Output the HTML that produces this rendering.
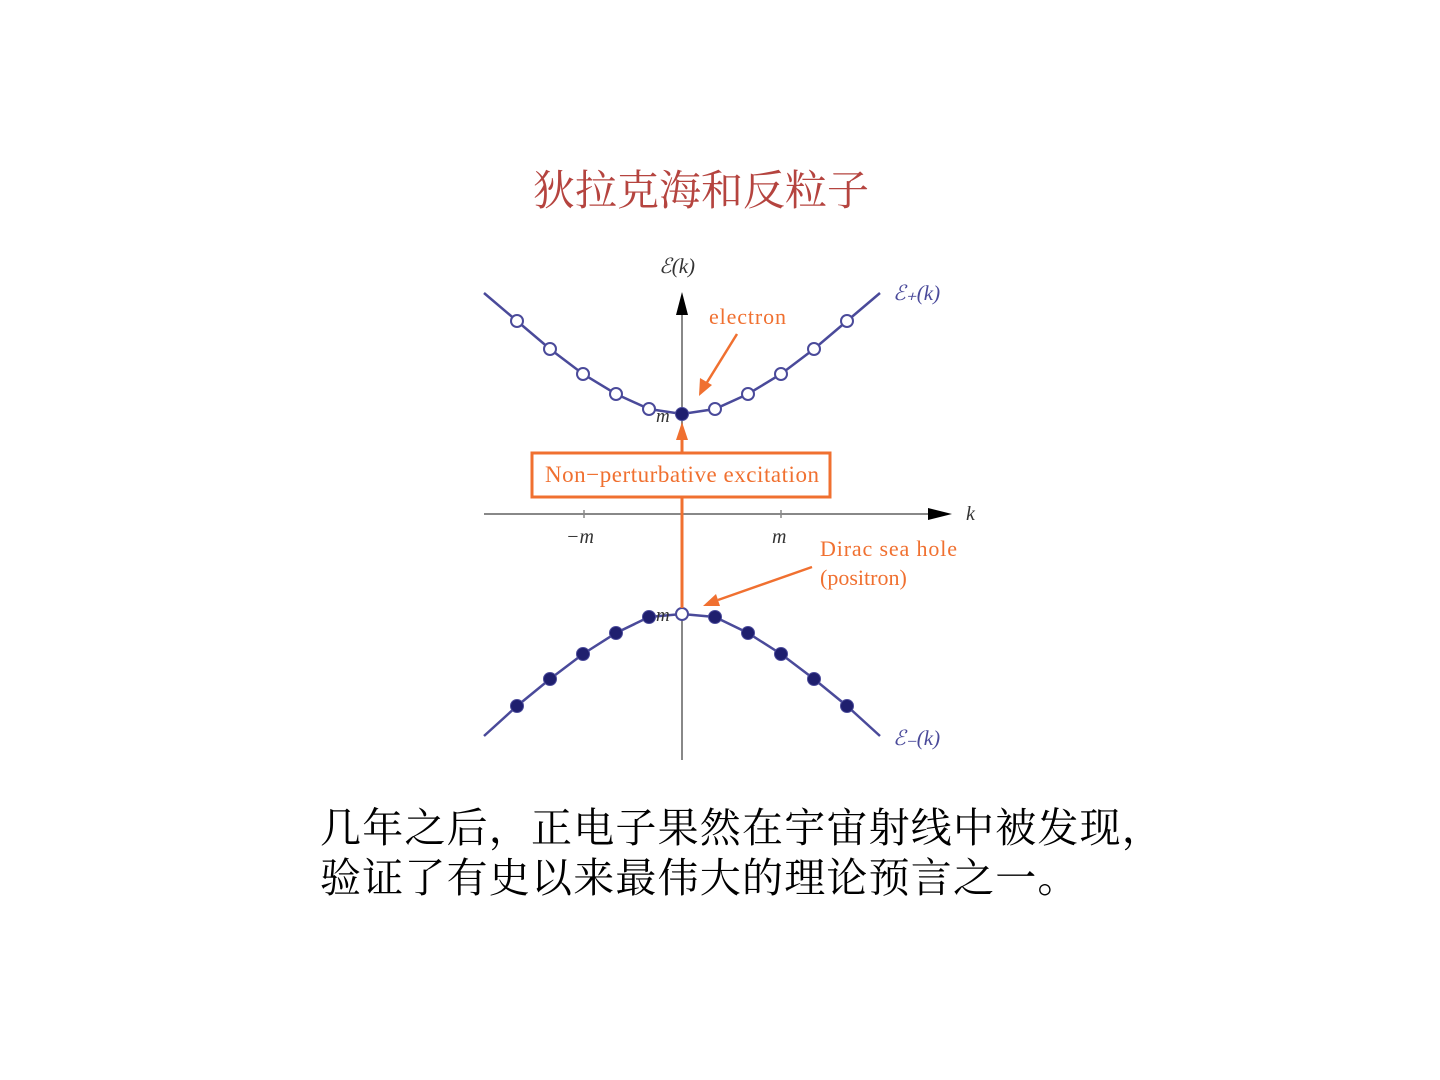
<!DOCTYPE html>
<html><head><meta charset="utf-8"><style>
html,body{margin:0;padding:0;background:#fff;width:1440px;height:1080px;overflow:hidden;position:relative}
.t{position:absolute;font-family:"Liberation Serif","Noto Serif CJK SC","Noto Sans CJK SC",serif;white-space:nowrap}
</style></head><body>
<div class="t" style="left:533px;top:158px;font-size:42px;color:#b5443f;">狄拉克海和反粒子</div>
<svg width="1440" height="1080" style="position:absolute;left:0;top:0" font-family="Liberation Serif, serif">
<line x1="484" y1="514" x2="935" y2="514" stroke="#888" stroke-width="2"/>
<path d="M928,508 L952,514 L928,520 z" fill="#000"/>
<line x1="682" y1="760" x2="682" y2="310" stroke="#888" stroke-width="2"/>
<path d="M676,315 L682,292 L688,315 z" fill="#000"/>
<line x1="584" y1="510" x2="584" y2="518" stroke="#888" stroke-width="1.5"/>
<line x1="781" y1="510" x2="781" y2="518" stroke="#888" stroke-width="1.5"/>
<text x="566" y="543" font-size="20" font-style="italic" fill="#333">−m</text>
<text x="772" y="543" font-size="20" font-style="italic" fill="#333">m</text>
<text x="966" y="520" font-size="20" font-style="italic" fill="#333">k</text>
<text x="659" y="273" font-size="21" fill="#333" font-style="italic">ℰ(k)</text>
<text x="893" y="300" font-size="21" fill="#4a4a9a" font-style="italic">ℰ₊(k)</text>
<text x="893" y="745" font-size="21" fill="#4a4a9a" font-style="italic">ℰ₋(k)</text>
<polyline fill="none" stroke="#4a4a9a" stroke-width="2.5" points="484,293 517,321 550,349 583,374 616,394 649,409 682,414 715,409 748,394 781,374 814,349 847,321 880,293"/>
<polyline fill="none" stroke="#4a4a9a" stroke-width="2.5" points="484,736 517,706 550,679 583,654 616,633 649,617 682,614 715,617 748,633 781,654 814,679 847,706 880,736"/>
<g fill="#fff" stroke="#4a4a9a" stroke-width="2">
<circle cx="517" cy="321" r="6"/><circle cx="550" cy="349" r="6"/><circle cx="583" cy="374" r="6"/><circle cx="616" cy="394" r="6"/><circle cx="649" cy="409" r="6"/>
<circle cx="715" cy="409" r="6"/><circle cx="748" cy="394" r="6"/><circle cx="781" cy="374" r="6"/><circle cx="814" cy="349" r="6"/><circle cx="847" cy="321" r="6"/>
<circle cx="682" cy="614" r="6"/>
</g>
<g fill="#1f1f6e" stroke="#4a4a9a" stroke-width="1">
<circle cx="682" cy="414" r="6.5"/>
<circle cx="517" cy="706" r="6.5"/><circle cx="550" cy="679" r="6.5"/><circle cx="583" cy="654" r="6.5"/><circle cx="616" cy="633" r="6.5"/><circle cx="649" cy="617" r="6.5"/>
<circle cx="715" cy="617" r="6.5"/><circle cx="748" cy="633" r="6.5"/><circle cx="781" cy="654" r="6.5"/><circle cx="814" cy="679" r="6.5"/><circle cx="847" cy="706" r="6.5"/>
</g>
<text x="656" y="422" font-size="19" font-style="italic" fill="#333">m</text>
<text x="656" y="621" font-size="19" font-style="italic" fill="#333">m</text>
<line x1="682" y1="608" x2="682" y2="435" stroke="#f07030" stroke-width="3"/>
<path d="M676,440 L682,422 L688,440 z" fill="#f07030"/>
<rect x="532" y="453" width="298" height="44" fill="#fff" stroke="#f07030" stroke-width="3"/>
<text x="682" y="482" font-size="23" fill="#f07030" text-anchor="middle" textLength="274">Non−perturbative excitation</text>
<text x="709" y="324" font-size="22" fill="#f07030" textLength="77">electron</text>
<line x1="737" y1="334" x2="706" y2="384" stroke="#f07030" stroke-width="2.5"/>
<path d="M699,396 L700,378 L712,385 z" fill="#f07030"/>
<text x="820" y="556" font-size="22" fill="#f07030" textLength="137">Dirac sea hole</text>
<text x="820" y="585" font-size="22" fill="#f07030">(positron)</text>
<line x1="812" y1="567" x2="718" y2="600" stroke="#f07030" stroke-width="2.5"/>
<path d="M703,606 L716,594 L720,606 z" fill="#f07030"/>
</svg>
<div class="t" style="left:320px;top:803px;font-size:41px;letter-spacing:1.2px;color:#000;line-height:50px">几年之后，正电子果然在宇宙射线中被发现，<br>验证了有史以来最伟大的理论预言之一。</div>
</body></html>
